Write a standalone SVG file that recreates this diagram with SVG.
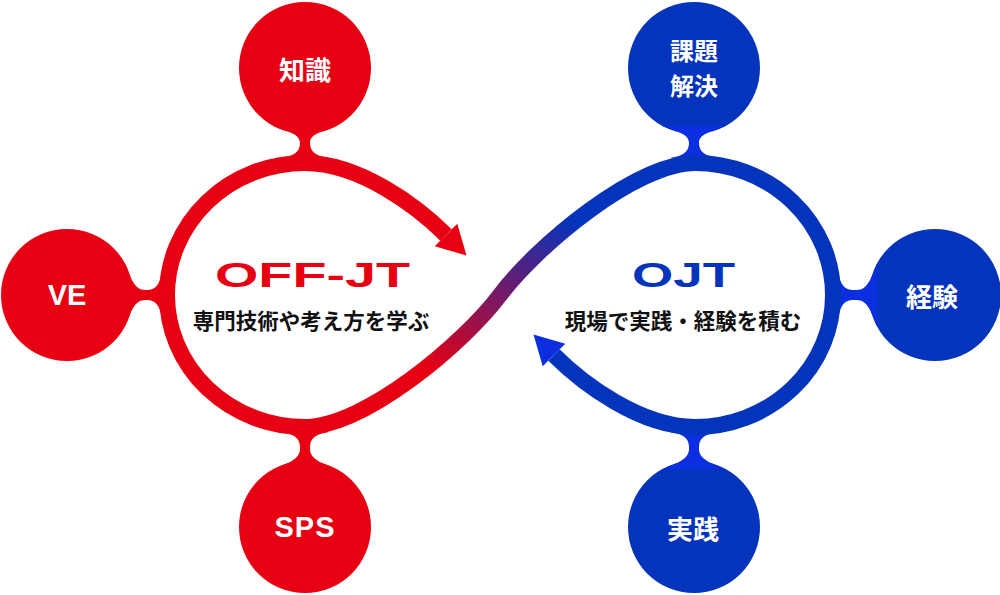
<svg xmlns="http://www.w3.org/2000/svg" width="1000" height="595" viewBox="0 0 1000 595">
  <style>
    .red { fill: #E60012; }
    .blue { fill: #0434BC; }
    .blueneck { fill: #0A2EE0; }
    .jp { font-family: "Noto Sans CJK JP", "Noto Sans", sans-serif; font-weight: bold; }
    .lat { font-family: "Liberation Sans", Arial, sans-serif; font-weight: bold; }
    .nodetxt { fill: #FFFFFF; font-size: 26px; text-anchor: middle; dominant-baseline: central; }
    .sub { fill: #111111; font-size: 21.5px; text-anchor: middle; dominant-baseline: central; }
    .loop { fill: none; stroke-width: 16; stroke-linecap: butt; }
  </style>
  <defs>
    <linearGradient id="sgrad" gradientUnits="userSpaceOnUse" x1="440" y1="380" x2="560" y2="210">
      <stop offset="0" stop-color="#E60012"/>
      <stop offset="1" stop-color="#0434BC"/>
    </linearGradient>
    <path id="neck95" d="M -32,57.7 C -16,64 -5,66 -5,75 C -5,83 -10,88 -24,90 L 24,90 C 10,88 5,83 5,75 C 5,66 16,64 32,57.7 Z"/>
    <path id="neck100" d="M -32,57.7 C -16,64 -5,68 -5,78 L -5,80 C -5,88 -10,93 -24,95 L 24,95 C 10,93 5,88 5,80 L 5,78 C 5,68 16,64 32,57.7 Z"/>
    <path id="neck102" d="M -32,57.7 C -16,64 -5,68 -5,78 L -5,82 C -5,90 -10,95 -24,97 L 24,97 C 10,95 5,90 5,82 L 5,78 C 5,68 16,64 32,57.7 Z"/>
  </defs>

  <g id="node-chishiki">
    <circle class="red" cx="305" cy="68" r="66"/>
    <use href="#neck95" class="red" transform="translate(305,68)"/>
    <text class="jp nodetxt" x="305" y="68">知識</text>
  </g>
  <g id="node-ve">
    <circle class="red" cx="67" cy="295" r="66"/>
    <use href="#neck100" class="red" transform="translate(67,295) rotate(-90)"/>
    <text class="lat" x="67" y="305" font-size="29" fill="#FFFFFF" text-anchor="middle">VE</text>
  </g>
  <g id="node-sps">
    <circle class="red" cx="305" cy="527" r="66"/>
    <use href="#neck100" class="red" transform="translate(305,527) rotate(180)"/>
    <text class="lat" x="305" y="537" font-size="29" fill="#FFFFFF" text-anchor="middle" letter-spacing="1">SPS</text>
  </g>
  <g id="node-kadai">
    <circle class="blue" cx="694" cy="68" r="66"/>
    <use href="#neck95" class="blueneck" transform="translate(694,68)"/>
    <text class="jp nodetxt" style="font-size:24px" x="694" y="49">課題</text>
    <text class="jp nodetxt" style="font-size:24px" x="694" y="84">解決</text>
  </g>
  <g id="node-keiken">
    <circle class="blue" cx="935" cy="295" r="66"/>
    <use href="#neck102" class="blueneck" transform="translate(935,295) rotate(90)"/>
    <text class="jp nodetxt" x="932" y="295">経験</text>
  </g>
  <g id="node-jissen">
    <circle class="blue" cx="694" cy="527" r="66"/>
    <use href="#neck100" class="blueneck" transform="translate(694,527) rotate(180)"/>
    <text class="jp nodetxt" x="693" y="527">実践</text>
  </g>

  <g id="connectors">
    <path class="loop" stroke="#E60012" d="M 305,427 A 138 132 0 0 1 167,295 A 138 132 0 0 1 305,163 C 360,163 418,207 446,235"/>
    <polygon class="red" points="466.5,255.5 457.3,223.7 434.7,246.3"/>
    <path class="loop" stroke="#0434BC" d="M 695,163 A 138 132 0 0 1 833,295 A 138 132 0 0 1 695,427 C 640,427 582,383 554,355"/>
    <polygon class="blueneck" points="533.5,334.5 542.7,366.3 565.3,343.7"/>
    <path class="loop" stroke="url(#sgrad)" d="M 304,427 C 365,427 464,343 500,295 C 536,247 635,163 696,163"/>
  </g>

  <g id="label-offjt">
    <text class="lat" x="215" y="287" font-size="35" fill="#E60012" textLength="195" lengthAdjust="spacingAndGlyphs">OFF-JT</text>
    <text class="jp sub" x="311" y="319">専門技術や考え方を学ぶ</text>
  </g>
  <g id="label-ojt">
    <text class="lat" x="632" y="287" font-size="35" fill="#0434BC" textLength="103" lengthAdjust="spacingAndGlyphs">OJT</text>
    <text class="jp sub" x="683" y="319">現場で実践・経験を積む</text>
  </g>
</svg>
